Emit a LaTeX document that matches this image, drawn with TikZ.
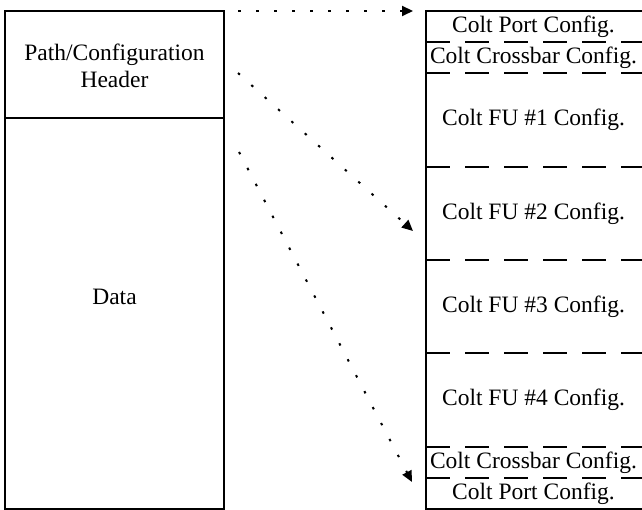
\documentclass[tikz,border=0pt]{standalone}
\usepackage{fontspec}
\setmainfont{Liberation Serif}
\usetikzlibrary{arrows.meta}
\begin{document}
\begin{tikzpicture}[x=1pt,y=-1pt,
  box/.style={draw,line width=1.5pt},
  sep/.style={line width=1.4pt,dash pattern=on 24pt off 15pt},
  lbl/.style={font=\fontsize{23.5}{27}\selectfont,align=center,inner sep=0pt},
  ptr/.style={line width=2pt,dash pattern=on 2.5pt off 15.5pt,-{Triangle[length=11pt,width=10pt]}}]
\useasboundingbox (0,0) rectangle (642,510);
\clip (0,0) rectangle (642,510);
% left packet
\draw[box] (5,11) rectangle (224,509);
\draw[box] (5,118) -- (224,118);
\node[lbl] (hdr) at (114.5,66) {Path/Configuration\\Header};
\node[lbl] (data) at (114.5,297) {Data};
% right configuration stack
\draw[box] (646,11) -- (426,11) -- (426,509) -- (646,509);
\foreach \yy in {42,73,167,260,353,447,478}
  \draw[sep] (426,\yy) -- (646,\yy);
\node[lbl] (p1) at (533.5,27) {Colt Port Config.};
\node[lbl] (c1) at (533.5,58) {Colt Crossbar Config.};
\node[lbl] (f1) at (533.5,120) {Colt FU \#1 Config.};
\node[lbl] (f2) at (533.5,213.5) {Colt FU \#2 Config.};
\node[lbl] (f3) at (533.5,306.5) {Colt FU \#3 Config.};
\node[lbl] (f4) at (533.5,400) {Colt FU \#4 Config.};
\node[lbl] (c2) at (533.5,463) {Colt Crossbar Config.};
\node[lbl] (p2) at (533.5,494) {Colt Port Config.};
% pointers
\coordinate (s1) at (238,11);
\coordinate (e1) at (413,11);
\coordinate (s2) at (238,73);
\coordinate (e2) at (413,231);
\coordinate (s3) at (239,152);
\coordinate (e3) at (412,482);
\draw[ptr] (s1) -- (e1);
\draw[ptr] (s2) -- (e2);
\draw[ptr] (s3) -- (e3);
\end{tikzpicture}
\end{document}
